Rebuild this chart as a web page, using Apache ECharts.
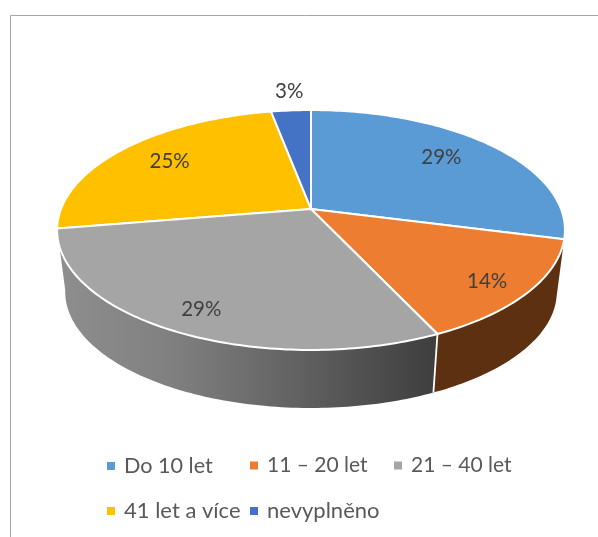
<!DOCTYPE html>
<html><head><meta charset="utf-8">
<style>html,body{margin:0;padding:0;background:#fff}#c{width:598px;height:537px}</style>
<script src="https://cdn.jsdelivr.net/npm/echarts@6/dist/echarts.min.js"></script>
</head><body><div id="c"></div>
<script>
const categories = ['Do 10 let', '11 – 20 let', '21 – 40 let', '41 let a více', 'nevyplněno'];
const values = [29, 14, 29.4, 24.6, 3];
const colors = ['#5B9BD5', '#ED7D31', '#A5A5A5', '#FFC000', '#4472C4'];

const total = values.reduce((a, b) => a + b, 0);
const K = 0.175;
const TOP = {cx: 311, cy: 209, a: 250, b: 116.3};
const BOT = {cx: 311, cy: 271.5, a: 242, b: 112.6};
function proj(P, frac, r) {
  const t = frac * 2 * Math.PI, u = r * Math.sin(t), v = r * Math.cos(t), w = 1 + K * v;
  return [P.cx + P.a * u / w, P.cy - P.b * v / w];
}
function arc(P, f0, f1) {
  const pts = [], n = Math.max(2, Math.ceil((f1 - f0) * 360));
  for (let i = 0; i <= n; i++) pts.push(proj(P, f0 + (f1 - f0) * i / n, 1));
  return pts;
}
const labelR = [0.74, 0.83, 0.83, 0.78, 1.23];
const labelShift = [[-5, -3], [0, 5], [1, 2], [7, 1], [2, 0]];
const wallFill = [
  null,
  '#5E3012',
  {type: 'linear', x: 0, y: 0, x2: 1, y2: 0, colorStops: [
    {offset: 0, color: '#8e8e8e'}, {offset: 0.3, color: '#808080'}, {offset: 0.5, color: '#6e6e6e'},
    {offset: 0.75, color: '#565656'}, {offset: 1, color: '#3e3e3e'}]},
  null, null
];

function makeRender(idx) {
  return function () {
    let before = 0;
    for (let i = 0; i < idx; i++) before += values[i];
    const f0 = before / total, f1 = (before + values[idx]) / total;
    const children = [];
    if (wallFill[idx]) {
      const t = arc(TOP, f0, f1), b = arc(BOT, f0, f1).reverse();
      children.push({type: 'polygon', shape: {points: t.concat(b)},
        style: {fill: wallFill[idx], lineWidth: 0}, z2: 1});
      if (idx === 2) {
        children.push({type: 'polyline', shape: {points: [proj(TOP, f0, 1), proj(BOT, f0, 1)]},
          style: {stroke: '#fff', fill: 'none', lineWidth: 1.8}, z2: 2});
      }
    }
    const pts = [[TOP.cx, TOP.cy]].concat(arc(TOP, f0, f1));
    children.push({type: 'polygon', shape: {points: pts},
      style: {fill: colors[idx], stroke: '#fff', lineWidth: 2, lineJoin: 'round'}, z2: 3});
    const lp = proj(TOP, (f0 + f1) / 2, labelR[idx]);
    children.push({type: 'text', z2: 9, style: {
      x: lp[0] + labelShift[idx][0], y: lp[1] + labelShift[idx][1],
      text: Math.round(values[idx] / total * 100) + '%',
      fill: '#404040', font: '20.5px Lato', align: 'center', verticalAlign: 'middle'}});
    return {type: 'group', children};
  };
}

const legendPos = [[107, 455], [250, 455], [394, 455], [107, 500], [250, 500]];
const legendSize = [21.6, 21, 21, 22, 22];
const drawOrder = [0, 3, 4, 1, 2];
const chart = echarts.init(document.getElementById('c'), null, {renderer: 'canvas'});
chart.setOption({
  animation: false,
  backgroundColor: '#fff',
  color: colors,
  graphic: [{type: 'polyline', silent: true,
    shape: {points: [[10.5, 537], [10.5, 15.5], [598, 15.5]]},
    style: {stroke: '#a6a6a6', fill: 'none', lineWidth: 1}}],
  legend: categories.map((c, i) => ({
    data: [c], left: legendPos[i][0], top: legendPos[i][1], itemWidth: 8, itemHeight: 8, itemGap: 0,
    icon: 'rect', textStyle: {fontFamily: 'Lato', fontSize: legendSize[i], color: '#595959', padding: [0, 0, 0, 4]},
    selectedMode: false, padding: 0
  })),
  series: categories.map((c, i) => ({
    type: 'custom', name: c, coordinateSystem: 'none', silent: true,
    z: 2 + drawOrder.indexOf(i),
    itemStyle: {color: colors[i]},
    data: [values[i]],
    renderItem: makeRender(i)
  }))
});
</script></body></html>
